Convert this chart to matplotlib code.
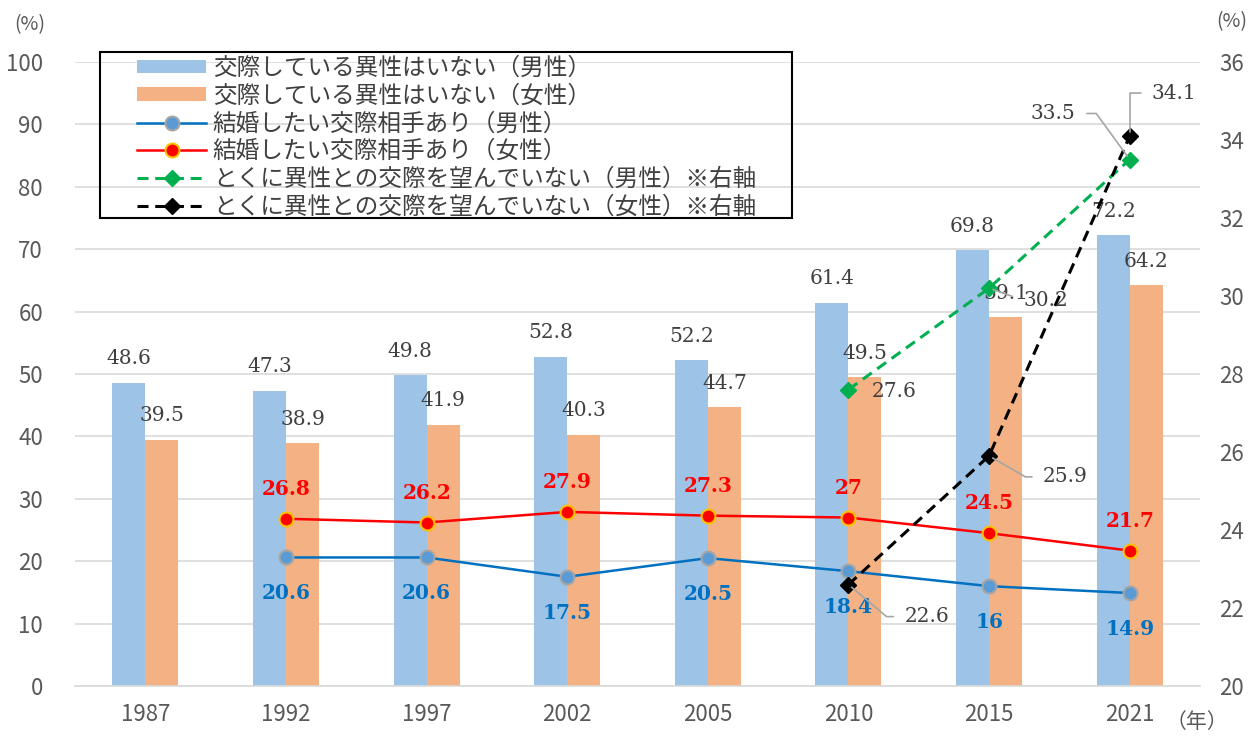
import numpy as np
import matplotlib.pyplot as plt
from matplotlib.patches import Rectangle

plt.rcParams['font.family'] = ['Noto Sans CJK JP', 'DejaVu Sans']

nan = np.nan
years = ['1987', '1992', '1997', '2002', '2005', '2010', '2015', '2021']
male_none = [48.6, 47.3, 49.8, 52.8, 52.2, 61.4, 69.8, 72.2]
female_none = [39.5, 38.9, 41.9, 40.3, 44.7, 49.5, 59.1, 64.2]
male_want = [nan, 20.6, 20.6, 17.5, 20.5, 18.4, 16, 14.9]
female_want = [nan, 26.8, 26.2, 27.9, 27.3, 27, 24.5, 21.7]
male_nodesire = [nan, nan, nan, nan, nan, 27.6, 30.2, 33.5]
female_nodesire = [nan, nan, nan, nan, nan, 22.6, 25.9, 34.1]

names = ['交際している異性はいない（男性）', '交際している異性はいない（女性）',
         '結婚したい交際相手あり（男性）', '結婚したい交際相手あり（女性）',
         'とくに異性との交際を望んでいない（男性）※右軸',
         'とくに異性との交際を望んでいない（女性）※右軸']

W, H = 1258, 736
fig = plt.figure(figsize=(W / 100, H / 100), dpi=100)
ax = fig.add_axes([75 / W, 1 - 686 / H, 1125 / W, 624 / H])

x = np.arange(len(years))
w = 0.235
grey_txt = '#595959'
lab_col = '#404040'
serif = 'DejaVu Serif'

b1 = ax.bar(x - w / 2, male_none, w, color='#9DC3E6', zorder=2, label=names[0])
b2 = ax.bar(x + w / 2, female_none, w, color='#F4B183', zorder=2, label=names[1])
l1, = ax.plot(x, male_want, color='#0070C0', lw=1.8, marker='o', ms=10,
              mfc='#5B9BD5', mec='#A5A5A5', mew=1.5, zorder=4, label=names[2])
l2, = ax.plot(x, female_want, color='#FF0000', lw=1.8, marker='o', ms=10,
              mfc='#FF0000', mec='#FFC000', mew=1.5, zorder=4, label=names[3])

ax.set_xlim(-0.5, len(years) - 0.5)
ax.set_ylim(0, 100)
ax.set_yticks(np.arange(0, 101, 10))
ax.set_xticks(x, years)
ax.grid(axis='y', color='#D9D9D9', lw=1.2)
ax.set_axisbelow(True)
for s in ['left', 'right', 'top']:
    ax.spines[s].set_visible(False)
ax.spines['bottom'].set_color('#D9D9D9')
ax.spines['bottom'].set_linewidth(1.2)
ax.tick_params(axis='x', length=0, pad=12, labelsize=16, labelcolor=grey_txt)
ax.tick_params(axis='y', length=0, pad=23, labelsize=16, labelcolor=grey_txt)

ax2 = ax.twinx()
dash = (0, (3.6, 2.2))
l3, = ax2.plot(x, male_nodesire, color='#00B050', lw=2.2, ls=dash,
               marker='D', ms=8.5, mfc='#00B050', mec='#00B050', zorder=5, label=names[4])
l4, = ax2.plot(x, female_nodesire, color='black', lw=2.2, ls=dash,
               marker='D', ms=8.5, mfc='black', mec='black', zorder=5, label=names[5])
ax2.set_ylim(20, 36)
ax2.set_yticks(np.arange(20, 37, 2))
for s in ['left', 'right', 'top', 'bottom']:
    ax2.spines[s].set_visible(False)
ax2.tick_params(axis='y', length=0, pad=14, labelsize=16, labelcolor=grey_txt)

# data labels
for i, v in enumerate(male_none):
    ax.annotate(f'{v:g}', (x[i] - w / 2, v), xytext=(0, 24), textcoords='offset pixels',
                ha='center', va='center', family=serif, fontsize=14.5, color=lab_col, zorder=3)
for i, v in enumerate(female_none):
    ax.annotate(f'{v:g}', (x[i] + w / 2, v), xytext=(0, 24), textcoords='offset pixels',
                ha='center', va='center', family=serif, fontsize=14.5, color=lab_col, zorder=3)
for i, v in enumerate(female_want):
    if not np.isnan(v):
        ax.annotate(f'{v:g}', (x[i], v), xytext=(0, 30), textcoords='offset pixels',
                    ha='center', va='center', family=serif, fontsize=14.5,
                    fontweight='bold', color='#FF0000', zorder=6)
for i, v in enumerate(male_want):
    if not np.isnan(v):
        ax.annotate(f'{v:g}', (x[i], v), xytext=(0, -36), textcoords='offset pixels',
                    ha='center', va='center', family=serif, fontsize=14.5,
                    fontweight='bold', color='#0070C0', zorder=6)

# right-axis labels with leader lines: (dx, dy, ha, relpos, connection)
male_lab = [None] * 5 + [
    (23, -2, 'left', None, None),
    (34, -12, 'left', (0, 0.5), 'arc3'),
    (-54, 46, 'right', (1, 0.5), 'angle,angleA=0,angleB=-54,rad=0'),
]
female_lab = [None] * 5 + [
    (56, -32, 'left', (0, 0.5), 'angle,angleA=0,angleB=-40,rad=0'),
    (54, -21, 'left', (0, 0.5), 'angle,angleA=0,angleB=-30,rad=0'),
    (22, 43, 'left', (0, 0.5), 'angle,angleA=0,angleB=90,rad=0'),
]
for vals, labs in [(male_nodesire, male_lab), (female_nodesire, female_lab)]:
    for i, v in enumerate(vals):
        if labs[i] is None:
            continue
        dx, dy, ha, rp, conn = labs[i]
        ap = None
        if conn:
            ap = dict(arrowstyle='-', color='#A6A6A6', lw=1.2, shrinkA=6, shrinkB=3,
                      relpos=rp, connectionstyle=conn)
        ax2.annotate(f'{v:g}', (x[i], v), xytext=(dx, dy), textcoords='offset pixels',
                     ha=ha, va='center', family=serif, fontsize=14.5, color=lab_col,
                     arrowprops=ap, zorder=6)

# legend with its own frame
fig.add_artist(Rectangle((100 / W, 1 - 218 / H), 692 / W, 166 / H, transform=fig.transFigure,
                         fill=False, ec='black', lw=1.5))
fig.legend([b1, b2, l1, l2, l3, l4], names, loc='upper left',
           bbox_to_anchor=(125 / W, 1 - 45 / H), frameon=False, borderpad=0,
           fontsize=17, handlelength=2.95, handletextpad=0.27, labelspacing=0.2,
           handleheight=0.5, labelcolor=lab_col)

fig.text(30 / W, 1 - 25 / H, '(%)', ha='center', va='center', fontsize=14, color=grey_txt)
fig.text(1232 / W, 1 - 22 / H, '(%)', ha='center', va='center', fontsize=14, color=grey_txt)
fig.text(1197 / W, 1 - 722 / H, '（年）', ha='center', va='center', fontsize=15, color=grey_txt)

fig.savefig('out.png', dpi=100)
